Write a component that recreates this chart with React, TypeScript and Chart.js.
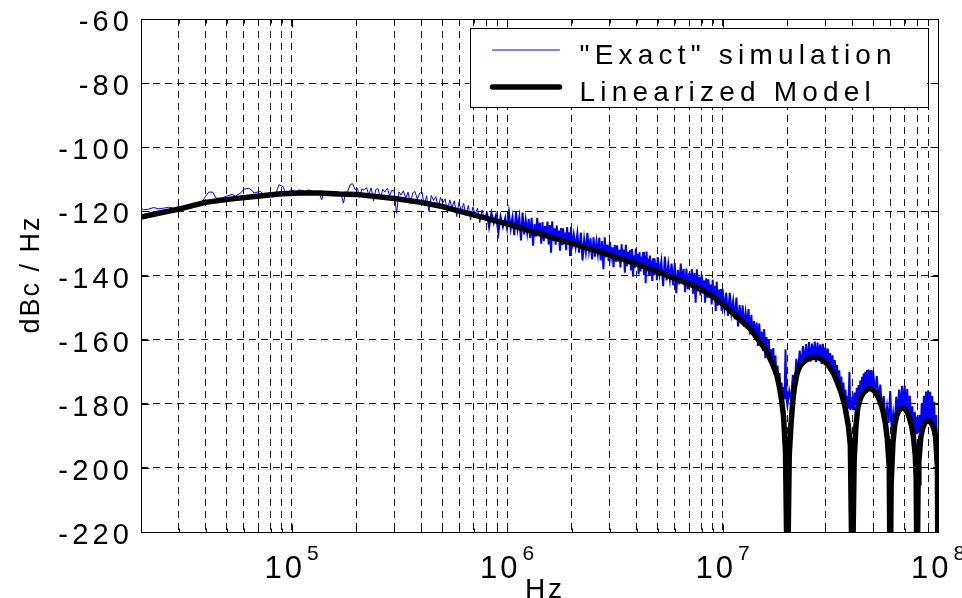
import { useEffect, useRef } from "react";
import { Chart, registerables } from "chart.js";

Chart.register(...registerables);

const W = 962;
const H = 598;
const FONT = '"Liberation Sans", Arial, Helvetica, sans-serif';

// axis ranges / ticks
const xMinHz = 2e4;
const xMaxHz = 1e8;
const yMin = -220;
const yMax = -60;
const yTickValues = [-60, -80, -100, -120, -140, -160, -180, -200, -220];
const xGridHz = [
  3e4, 4e4, 5e4, 6e4, 7e4, 8e4, 9e4,
  1e5, 2e5, 3e5, 4e5, 5e5, 6e5, 7e5, 8e5, 9e5,
  1e6, 2e6, 3e6, 4e6, 5e6, 6e6, 7e6, 8e6, 9e6,
  1e7, 2e7, 3e7, 4e7, 5e7, 6e7, 7e7, 8e7, 9e7, 1e8,
];
const xMajorHz = [1e5, 1e6, 1e7, 1e8];
const xMajorExp = ["5", "6", "7", "8"];
const xTitle = "Hz";
const yTitle = "dBc / Hz";
const seriesLabels = ['"Exact" simulation', "Linearized Model"];

// "Exact" simulation: [MHz, dBc/Hz]
const exactLow: [number, number][] = [
  [0.0200, -119.0], [0.0206, -119.5], [0.0217, -119.3], [0.0229, -118.8], [0.0241, -119.2],
  [0.0255, -119.0], [0.0269, -118.7], [0.0284, -119.0], [0.0299, -118.5], [0.0321, -118.8],
  [0.0345, -118.7], [0.0364, -118.3], [0.0384, -116.9], [0.0398, -115.4], [0.0412, -114.0],
  [0.0431, -114.0], [0.0446, -115.9], [0.0476, -115.8], [0.0502, -115.2], [0.0529, -114.7],
  [0.0549, -115.2], [0.0579, -114.3], [0.0600, -113.1], [0.0633, -112.8], [0.0656, -113.5],
  [0.0668, -114.3], [0.0692, -114.0], [0.0717, -113.8], [0.0730, -114.3], [0.0757, -115.4],
  [0.0790, -114.1], [0.0818, -115.6], [0.0842, -114.8], [0.0873, -111.7], [0.0911, -112.2],
  [0.0937, -114.1], [0.0965, -114.0], [0.0989, -113.3], [0.1025, -113.6], [0.1051, -114.0],
  [0.1081, -113.3], [0.1120, -113.5], [0.1161, -113.9], [0.1204, -113.3], [0.1247, -113.8],
  [0.1293, -114.3], [0.1340, -114.1], [0.1379, -116.4], [0.1414, -114.1], [0.1465, -114.3],
  [0.1518, -113.8], [0.1573, -114.3], [0.1660, -114.0],
  [0.170, -114.9], [0.174, -117.4], [0.178, -114.2], [0.183, -113.5], [0.187, -111.6],
  [0.192, -111.4], [0.197, -113.2], [0.202, -112.8], [0.207, -115.6], [0.212, -113.0],
  [0.217, -113.4], [0.223, -112.6], [0.228, -114.9], [0.234, -112.7], [0.240, -116.8],
  [0.246, -113.2], [0.252, -112.9], [0.258, -115.9], [0.265, -113.1], [0.271, -114.0],
  [0.278, -112.8], [0.285, -115.0], [0.292, -113.4], [0.299, -113.7], [0.307, -120.6],
  [0.315, -113.9], [0.322, -114.9], [0.330, -113.6], [0.339, -115.8], [0.347, -114.0],
  [0.356, -117.6], [0.365, -114.2], [0.374, -113.8], [0.383, -116.2], [0.393, -114.3],
  [0.403, -114.0], [0.413, -118.3], [0.423, -115.1], [0.434, -120.0], [0.445, -115.0],
  [0.456, -116.6], [0.467, -115.4], [0.479, -118.7], [0.491, -115.7], [0.503, -117.3],
  [0.516, -116.1], [0.529, -120.4], [0.542, -116.4], [0.555, -118.9], [0.569, -116.7],
  [0.584, -121.6], [0.598, -117.1], [0.613, -119.9], [0.629, -117.5], [0.644, -121.3],
  [0.661, -118.1], [0.677, -122.7], [0.694, -118.6], [0.711, -120.9], [0.729, -119.0],
  [0.747, -123.5], [0.766, -119.6], [0.785, -122.4], [0.805, -120.1], [0.825, -124.9],
  [0.846, -120.5], [0.867, -123.6], [0.888, -121.2], [0.911, -126.7], [0.933, -121.6],
  [0.957, -124.8], [0.981, -122.0], [1.000, -125.3],
];

const exact1to2: [number, number][] = [
  [1.02, -120.3], [1.04, -125.4], [1.06, -121.8], [1.08, -127.4], [1.10, -120.2],
  [1.12, -125.5], [1.14, -121.9], [1.16, -129.1], [1.18, -120.4], [1.20, -127.2],
  [1.22, -122.7], [1.24, -126.7], [1.26, -122.3], [1.28, -128.3], [1.30, -122.0],
  [1.32, -130.7], [1.34, -124.0], [1.36, -127.9], [1.38, -122.0], [1.40, -127.5],
  [1.42, -123.6], [1.44, -130.1], [1.46, -123.3], [1.48, -129.2], [1.50, -124.6],
  [1.52, -128.3], [1.54, -123.2], [1.56, -130.3], [1.58, -124.3], [1.60, -132.9],
  [1.62, -123.1], [1.64, -129.3], [1.66, -125.3], [1.68, -130.4], [1.70, -124.4],
  [1.72, -129.1], [1.74, -126.0], [1.76, -132.3], [1.78, -125.2], [1.80, -130.5],
  [1.82, -125.3], [1.84, -130.3], [1.86, -126.6], [1.88, -132.1], [1.90, -124.9],
  [1.92, -130.1], [1.94, -126.5], [1.96, -133.6], [1.98, -124.9], [2.00, -131.6],
];

const exact2to5: [number, number][] = [
  [2.04, -127.2], [2.08, -131.2], [2.12, -126.8], [2.16, -132.9], [2.20, -126.6],
  [2.24, -135.3], [2.28, -128.7], [2.32, -132.7], [2.36, -126.7], [2.40, -132.3],
  [2.44, -128.4], [2.48, -135.0], [2.52, -128.1], [2.56, -134.1], [2.60, -129.5],
  [2.64, -133.2], [2.68, -128.2], [2.72, -135.3], [2.76, -129.3], [2.80, -138.0],
  [2.84, -128.1], [2.88, -134.3], [2.92, -130.4], [2.96, -135.5], [3.00, -129.5],
  [3.04, -134.2], [3.08, -131.2], [3.12, -137.5], [3.16, -130.4], [3.20, -135.7],
  [3.24, -130.6], [3.28, -135.7], [3.32, -132.0], [3.36, -137.5], [3.40, -130.3],
  [3.44, -135.5], [3.48, -131.9], [3.52, -139.1], [3.56, -130.4], [3.60, -137.1],
  [3.64, -132.6], [3.68, -136.5], [3.72, -132.1], [3.76, -138.1], [3.80, -131.7],
  [3.84, -140.4], [3.88, -133.7], [3.92, -137.6], [3.96, -131.6], [4.00, -137.1],
  [4.04, -133.2], [4.08, -139.7], [4.12, -132.8], [4.16, -138.7], [4.20, -134.1],
  [4.24, -137.8], [4.28, -132.7], [4.32, -139.8], [4.36, -133.8], [4.40, -142.4],
  [4.44, -132.5], [4.48, -138.7], [4.52, -134.7], [4.56, -139.8], [4.60, -133.8],
  [4.64, -138.5], [4.68, -135.4], [4.72, -141.7], [4.76, -134.6], [4.80, -139.9],
  [4.84, -134.7], [4.88, -139.7], [4.92, -136.0], [4.96, -141.5], [5.00, -134.3],
];

const exact5to10: [number, number][] = [
  [5.1, -139.6], [5.2, -135.5], [5.3, -143.3], [5.4, -134.1], [5.5, -141.5],
  [5.6, -136.5], [5.7, -141.2], [5.8, -136.3], [5.9, -143.0], [6.0, -136.1],
  [6.1, -145.5], [6.2, -138.2], [6.3, -142.8], [6.4, -136.3], [6.5, -142.5],
  [6.6, -138.0], [6.7, -145.2], [6.8, -137.8], [6.9, -144.3], [7.0, -139.2],
  [7.1, -143.6], [7.2, -138.0], [7.3, -145.7], [7.4, -139.2], [7.5, -148.5],
  [7.6, -138.1], [7.7, -145.0], [7.8, -140.4], [7.9, -146.2], [8.0, -139.7],
  [8.1, -145.1], [8.2, -141.5], [8.3, -148.5], [8.4, -140.9], [8.5, -146.9],
  [8.6, -141.2], [8.7, -147.0], [8.8, -142.8], [8.9, -149.0], [9.0, -141.3],
  [9.1, -147.3], [9.2, -143.2], [9.3, -151.1], [9.4, -141.9], [9.5, -149.4],
  [9.6, -144.4], [9.7, -149.1], [9.8, -144.2], [9.9, -151.0], [10.0, -144.1],
];

const exact10to20: [number, number][] = [
  [10.2, -150.2], [10.4, -145.3], [10.6, -152.5], [10.8, -145.4], [11.0, -151.7],
  [11.2, -147.9], [11.4, -153.7], [11.6, -146.9], [11.8, -155.9], [12.0, -149.2],
  [12.2, -154.5], [12.4, -149.3], [12.6, -156.0], [12.8, -151.6], [13.0, -155.9],
  [13.2, -150.5], [13.4, -158.4], [13.6, -152.3], [13.8, -158.6], [14.0, -154.2],
  [14.2, -159.6], [14.4, -154.7], [14.6, -162.0], [14.8, -155.0], [15.0, -161.3],
  [15.2, -157.5], [15.4, -163.5], [15.6, -156.7], [15.8, -165.8], [16.0, -159.2],
  [16.2, -164.9], [16.4, -160.0], [16.6, -167.0], [16.8, -163.0], [17.0, -167.7],
  [17.2, -162.6], [17.4, -170.9], [17.6, -165.0], [17.8, -171.6], [18.0, -168.1],
  [18.2, -174.3], [18.4, -170.4], [18.6, -178.0], [18.8, -173.5], [19.0, -179.5],
  [19.2, -174.8], [19.4, -178.6], [19.6, -163.0], [19.8, -178.2], [20.0, -180.5],
];

const exact20to50: [number, number][] = [
  [20.4, -176.0], [20.8, -179.0], [21.2, -171.0], [21.6, -175.2], [22.0, -166.0],
  [22.4, -170.4], [22.8, -163.4], [23.2, -168.6], [23.6, -162.0], [24.0, -167.3],
  [24.4, -161.4], [24.8, -166.8], [25.2, -160.8], [25.6, -166.9], [26.0, -161.2],
  [26.4, -166.0], [26.8, -160.6], [27.2, -167.0], [27.6, -160.9], [28.0, -166.3],
  [28.4, -161.5], [28.8, -167.6], [29.2, -161.3], [29.6, -167.2], [30.0, -162.4],
  [30.4, -168.0], [30.8, -162.8], [31.2, -169.5], [31.6, -164.2], [32.0, -170.0],
  [32.4, -164.9], [32.8, -171.8], [33.2, -166.4], [33.6, -172.8], [34.0, -167.9],
  [34.4, -175.1], [34.8, -169.6], [35.2, -176.3], [35.6, -171.5], [36.0, -178.6],
  [36.4, -173.4], [36.8, -180.0], [37.2, -175.6], [37.6, -181.0], [38.0, -177.5],
  [38.4, -181.5], [38.8, -170.0], [39.2, -182.0], [39.6, -178.0], [40.0, -181.5],
  [40.4, -179.0], [40.8, -182.0], [41.2, -176.5], [41.6, -180.5], [42.0, -175.0],
  [42.4, -180.8], [42.8, -174.2], [43.2, -179.5], [43.6, -172.8], [44.0, -178.2],
  [44.4, -171.6], [44.8, -177.4], [45.2, -170.6], [45.6, -176.8], [46.0, -170.0],
  [46.4, -176.3], [46.8, -169.5], [47.2, -176.0], [47.6, -169.3], [48.0, -175.6],
  [48.4, -169.6], [48.8, -175.9], [49.2, -169.5], [49.6, -176.0], [50.0, -170.0],
];

const exact50to100: [number, number][] = [
  [51, -176.8], [52, -171.4], [53, -178.7], [54, -174.0], [55, -181.6],
  [56, -177.6], [57, -185.5], [58, -181.0], [59, -186.0], [60, -176.0],
  [61, -188.5], [62, -183.0], [63, -186.8], [64, -177.8], [65, -183.3],
  [66, -175.6], [67, -182.0], [68, -174.5], [69, -181.6], [70, -174.3],
  [71, -182.3], [72, -175.4], [73, -184.0], [74, -177.5], [75, -186.6],
  [76, -180.8], [77, -190.0], [78, -182.5], [79, -189.5], [80, -184.0],
  [81, -189.0], [82, -183.5], [83, -190.5], [84, -180.0], [85, -187.8],
  [86, -177.5], [87, -186.0], [88, -176.2], [89, -185.4], [90, -175.8],
  [91, -185.5], [92, -176.3], [93, -186.3], [94, -177.6], [95, -187.5],
  [96, -179.4], [97, -189.8], [98, -183.5], [99, -192.0], [100, -191.5],
];

// Linearized model: [MHz, dBc/Hz]
const linearized: [number, number][] = [
  [0.020, -121.8], [0.0241, -120.6], [0.030, -119.3], [0.0398, -117.2], [0.053, -116.1],
  [0.071, -115.2], [0.087, -114.6], [0.108, -114.3], [0.134, -114.3], [0.166, -114.6],
  [0.20, -114.7], [0.30, -116.0], [0.40, -117.2], [0.50, -118.5], [0.70, -121.1],
  [1.0, -123.9], [1.5, -127.5], [2.0, -129.9], [3.0, -133.6], [4.0, -136.4],
  [5.0, -138.8], [6.0, -140.9], [7.0, -142.6], [8.0, -144.4], [9.0, -146.4],
  [10.0, -148.9], [11.2, -151.8], [13.4, -156.5], [14.5, -159.6], [16.0, -163.5],
  [17.0, -167.4], [17.8, -170.6], [18.4, -175.0], [18.8, -178.9], [19.2, -184.0],
  [19.6, -195.0], [20.0, -240.0],
  [20.4, -196.0], [20.8, -186.0], [21.2, -179.0], [21.6, -174.5], [22.1, -171.0],
  [22.5, -169.3], [23.0, -168.0], [23.9, -166.8], [24.9, -166.0], [25.9, -165.6],
  [26.9, -165.5], [28.0, -165.7], [29.1, -166.3], [30.3, -167.3], [31.5, -168.7],
  [32.8, -170.7], [34.1, -173.3], [35.5, -176.5], [36.9, -180.5], [38.4, -187.0],
  [39.2, -193.0], [40.0, -240.0],
  [40.8, -198.0], [41.6, -187.0], [42.4, -181.5], [43.3, -179.0], [44.1, -177.7],
  [45.0, -176.7], [45.9, -176.0], [46.8, -175.5], [47.8, -175.3], [48.7, -175.3],
  [49.7, -175.6], [50.7, -176.1], [51.7, -176.9], [52.7, -177.9], [53.8, -179.3],
  [54.9, -181.0], [56.0, -183.3], [57.1, -186.5], [58.2, -191.0], [59.4, -200.0],
  [60.0, -240.0],
  [60.6, -205.0], [61.8, -192.0], [63.0, -186.5], [64.3, -183.8], [65.6, -182.4],
  [66.9, -181.6], [68.2, -181.3], [69.6, -181.4], [71.0, -182.0], [72.4, -183.0],
  [73.8, -184.6], [75.3, -186.8], [76.8, -190.0], [78.4, -196.0], [79.2, -203.0],
  [80.0, -240.0],
  [80.8, -205.0], [81.5, -198.0], [83.2, -190.5], [84.8, -187.8], [86.5, -186.2],
  [88.3, -185.4], [90.0, -185.2], [91.8, -185.5], [93.7, -186.4], [95.5, -187.5],
  [97.5, -190.5], [99.4, -200.0], [100.0, -240.0],
];

const toPoints = (rows: [number, number][]) => rows.map(([mhz, db]) => ({ x: mhz * 1e6, y: db }));

function spacedWidth(ctx: CanvasRenderingContext2D, text: string, sp: number) {
  let w = 0;
  for (const ch of text) w += ctx.measureText(ch).width + sp;
  return w - sp;
}

function drawSpaced(
  ctx: CanvasRenderingContext2D,
  text: string,
  x: number,
  y: number,
  sp: number,
  align: "left" | "right" | "center"
) {
  const w = spacedWidth(ctx, text, sp);
  let cx = align === "left" ? x : align === "right" ? x - w : x - w / 2;
  ctx.textAlign = "left";
  for (const ch of text) {
    ctx.fillText(ch, cx, y);
    cx += ctx.measureText(ch).width + sp;
  }
}

const decorPlugin = {
  id: "matlabDecor",
  afterDraw(chart: any) {
    const ctx: CanvasRenderingContext2D = chart.ctx;
    const a = chart.chartArea;
    const xs = chart.scales.x;
    const ys = chart.scales.y;
    ctx.save();
    ctx.setLineDash([]);
    ctx.strokeStyle = "#000";
    ctx.fillStyle = "#000";
    ctx.lineWidth = 1;

    const L = Math.round(a.left) + 0.5;
    const R = Math.round(a.right) + 0.5;
    const T = Math.round(a.top) + 0.5;
    const B = Math.round(a.bottom) + 0.5;

    // inner tick marks
    ctx.beginPath();
    for (const v of xGridHz) {
      const px = Math.round(xs.getPixelForValue(v)) + 0.5;
      const len = xMajorHz.includes(v) ? 8 : 4;
      ctx.moveTo(px, T);
      ctx.lineTo(px, T + len);
      ctx.moveTo(px, B);
      ctx.lineTo(px, B - len);
    }
    for (const v of yTickValues) {
      const py = Math.round(ys.getPixelForValue(v)) + 0.5;
      ctx.moveTo(L, py);
      ctx.lineTo(L + 8, py);
      ctx.moveTo(R, py);
      ctx.lineTo(R - 8, py);
    }
    ctx.stroke();

    // box
    ctx.beginPath();
    ctx.rect(L, T, R - L, B - T);
    ctx.stroke();

    // y tick labels
    ctx.font = `29px ${FONT}`;
    ctx.textBaseline = "alphabetic";
    for (const v of yTickValues) {
      const py = ys.getPixelForValue(v);
      drawSpaced(ctx, String(v), a.left - 12, py + 12, 4.2, "right");
    }

    // x tick labels 10^n
    xMajorHz.forEach((v, i) => {
      const px = xs.getPixelForValue(v);
      ctx.font = `31px ${FONT}`;
      const wBase = spacedWidth(ctx, "10", 3);
      ctx.font = `21px ${FONT}`;
      const wExp = ctx.measureText(xMajorExp[i]).width;
      const total = wBase + 5 + wExp;
      const x0 = px - total / 2;
      ctx.font = `31px ${FONT}`;
      drawSpaced(ctx, "10", x0, 578, 3, "left");
      ctx.font = `21px ${FONT}`;
      ctx.fillText(xMajorExp[i], x0 + wBase + 5, 560);
    });

    // axis titles
    ctx.font = `28px ${FONT}`;
    drawSpaced(ctx, xTitle, (a.left + a.right) / 2 + 4, 598, 3, "center");
    ctx.save();
    ctx.translate(39, (a.top + a.bottom) / 2);
    ctx.rotate(-Math.PI / 2);
    ctx.font = `27px ${FONT}`;
    drawSpaced(ctx, yTitle, 0, 0, 2, "center");
    ctx.restore();

    // legend
    const lx = a.right - 11;
    const bx = 469.5;
    const by = a.top + 9;
    const bw = lx - bx;
    const bh = 79;
    ctx.fillStyle = "#fff";
    ctx.fillRect(bx, by, bw, bh);
    ctx.strokeStyle = "#000";
    ctx.lineWidth = 1;
    ctx.strokeRect(Math.round(bx) + 0.5, Math.round(by) + 0.5, Math.round(bw), Math.round(bh));
    const ds = chart.data.datasets;
    const rows = [
      { y: by + 22, ds: ds[0], w: 1 },
      { y: by + 59, ds: ds[1], w: ds[1].borderWidth },
    ];
    ctx.font = `28px ${FONT}`;
    ctx.textBaseline = "alphabetic";
    rows.forEach((r) => {
      ctx.beginPath();
      ctx.strokeStyle = r.ds.borderColor;
      ctx.lineWidth = r.w;
      ctx.lineCap = "round";
      ctx.moveTo(bx + 23, r.y);
      ctx.lineTo(bx + 90, r.y);
      ctx.stroke();
      ctx.fillStyle = "#000";
      drawSpaced(ctx, r.ds.label, bx + 110, r.y + 13.5, 5.2, "left");
    });
    ctx.restore();
  },
};

export default function App() {
  const ref = useRef<HTMLCanvasElement | null>(null);

  useEffect(() => {
    const canvas = ref.current;
    if (!canvas) return;
    const gridOpts = { color: "rgba(0,0,0,0.9)", lineWidth: 1, drawTicks: false };
    const exactAll = [
      ...exactLow, ...exact1to2, ...exact2to5, ...exact5to10,
      ...exact10to20, ...exact20to50, ...exact50to100,
    ];
    const chart = new Chart(canvas, {
      type: "line",
      data: {
        datasets: [
          {
            label: seriesLabels[0],
            data: toPoints(exactAll),
            borderColor: "#0000ff",
            borderWidth: 1,
            segment: {
              borderWidth: (c: any) => (c.p0.parsed.x >= 8e5 ? 2 : 1),
            },
            pointRadius: 0,
            tension: 0,
            order: 2,
            clip: 0,
          },
          {
            label: seriesLabels[1],
            data: toPoints(linearized),
            borderColor: "#000000",
            borderWidth: 5.5,
            pointRadius: 0,
            tension: 0,
            order: 1,
            clip: 0,
            borderJoinStyle: "round",
            borderCapStyle: "round",
          },
        ],
      },
      options: {
        responsive: false,
        animation: false,
        events: [],
        layout: { padding: { left: 141, right: 24, top: 19, bottom: 66 } },
        plugins: { legend: { display: false }, tooltip: { enabled: false } },
        scales: {
          x: {
            type: "logarithmic",
            min: xMinHz,
            max: xMaxHz,
            afterBuildTicks: (s: any) => {
              s.ticks = xGridHz.map((v) => ({ value: v }));
            },
            afterFit: (s: any) => {
              s.height = 0;
            },
            ticks: { display: false },
            grid: gridOpts,
            border: { display: false, dash: [7, 5] },
          },
          y: {
            type: "linear",
            min: yMin,
            max: yMax,
            afterBuildTicks: (s: any) => {
              s.ticks = yTickValues.map((v) => ({ value: v }));
            },
            afterFit: (s: any) => {
              s.width = 0;
            },
            ticks: { display: false },
            grid: gridOpts,
            border: { display: false, dash: [7, 5] },
          },
        },
      } as any,
      plugins: [decorPlugin],
    });
    return () => chart.destroy();
  }, []);

  return (
    <div style={{ position: "fixed", left: 0, top: 0, width: W, height: H, background: "#fff" }}>
      <canvas ref={ref} width={W} height={H} style={{ display: "block" }} />
    </div>
  );
}
